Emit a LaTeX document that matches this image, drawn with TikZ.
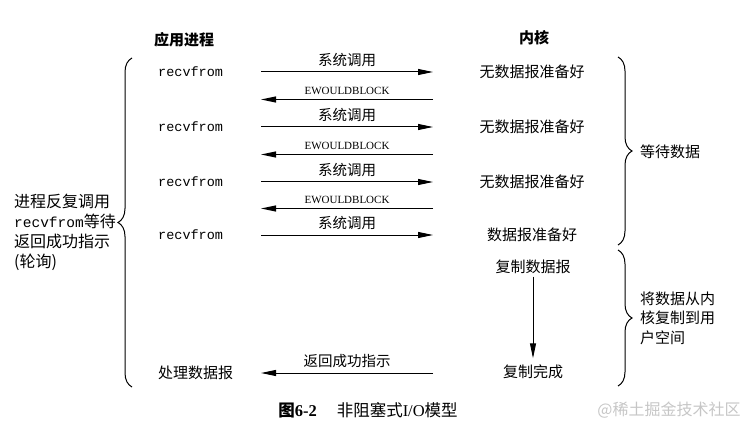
\documentclass[tikz,border=0pt]{standalone}
\usepackage{fontspec}
\setmainfont{Liberation Serif}
\setmonofont{Liberation Mono}
\newfontfamily\cjk{Noto Sans CJK SC}
\usetikzlibrary{arrows.meta,calc,decorations.pathreplacing}

\tikzset{
  cjktext/.style={font=\cjk\fontsize{15}{19.5}\selectfont, inner sep=0pt},
  headtext/.style={font=\cjk\bfseries\fontsize{15}{18}\selectfont, inner sep=0pt},
  calltext/.style={font=\ttfamily\fontsize{13.5}{16}\selectfont, inner sep=0pt, anchor=west},
  msg/.style={-{Triangle[length=15pt,width=6pt]}, line width=1pt},
  msglabel/.style={above=5pt, inner sep=0pt, font=\cjk\fontsize{14.5}{17}\selectfont},
  blocklabel/.style={above=4pt, inner sep=0pt, font=\rmfamily\fontsize{11}{13}\selectfont},
  bracedraw/.style={decorate, decoration={brace,amplitude=14pt}, line width=1pt}
}

\begin{document}
\begin{tikzpicture}[x=1pt,y=-1pt]
    \useasboundingbox (0,0) rectangle (753,433);

    % headers
    \node[headtext] (app) at (184,40) {应用进程};
    \node[headtext] (kernel) at (534,38) {内核};

    % calls and answers
    \coordinate (lx) at (261,0);
    \coordinate (rx) at (433,0);
    \foreach \i/\y in {1/72,2/127,3/182,4/235}
        \node[calltext] (recv\i) at (158,\y) {recvfrom};
    \foreach \i/\y/\t in {1/72/无数据报准备好,2/127/无数据报准备好,3/182/无数据报准备好,4/235/数据报准备好}
        \node[cjktext] (ready\i) at (532,\y) {\t};
    \foreach \i in {1,...,4}
        \draw[msg] (recv\i -| lx) -- node[msglabel] {系统调用} (ready\i -| rx);
    \foreach \i/\j in {1/2,2/3,3/4}{
        \coordinate (back\i) at ($(ready\i)!0.5!(ready\j)$);
        \draw[msg] (back\i -| rx) -- node[blocklabel] {EWOULDBLOCK} (back\i -| lx);
    }

    % copy
    \node[cjktext] (copy) at (533,267) {复制数据报};
    \node[cjktext] (done) at (533,372) {复制完成};
    \draw[msg, shorten <=2.5pt, shorten >=6.5pt] (copy) -- (done);
    \node[cjktext, anchor=west] (proc) at (158,373) {处理数据报};
    \draw[msg] (proc -| rx) -- node[msglabel] {返回成功指示} (proc -| lx);

    % braces
    \draw[bracedraw] (132,387) -- (132,58);
    \draw[bracedraw] (618,57) -- (618,245);
    \draw[bracedraw] (618,250) -- (618,386);
    \node[cjktext, font=\cjk\fontsize{16}{20}\selectfont, align=left, anchor=west] (poll) at (14,232.5)
        {进程反复调用\\{\ttfamily\fontsize{14.5}{16}\selectfont recvfrom}等待\\返回成功指示\\(轮询)};
    \node[cjktext, anchor=west] (wait) at (640,152) {等待数据};
    \node[cjktext, align=left, anchor=west] (move) at (640,318) {将数据从内\\核复制到用\\户空间};

    % caption
    \node[cjktext, font=\cjk\fontsize{16.5}{19}\selectfont] (caption) at (368,410)
        {{\bfseries 图{\rmfamily 6-2}}\hspace{20pt}非阻塞式{\rmfamily I/O}模型};
    \node[cjktext, font=\cjk\fontsize{16}{18}\selectfont, text=gray!45] (mark) at (669,410) {@稀土掘金技术社区};

\end{tikzpicture}
\end{document}
